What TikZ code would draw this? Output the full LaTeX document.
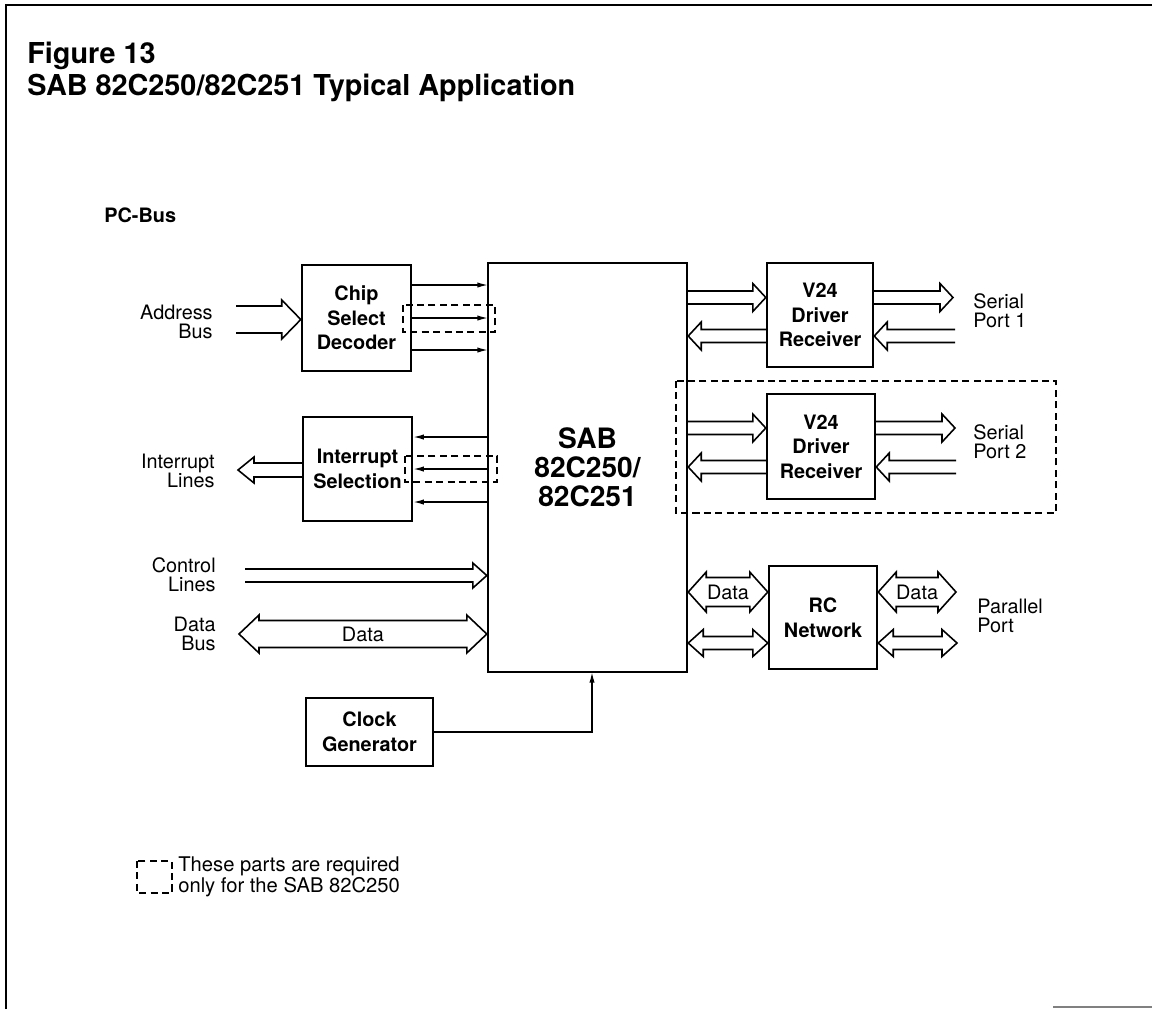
\documentclass[tikz,border=0pt]{standalone}
\usepackage{fontspec}
\setmainfont{TeX Gyre Heros}
\usetikzlibrary{arrows.meta,calc}

\newcommand{\busarrow}[5]{%
  \draw[bus] let \p1=(#1), \p2=(#2), \n1={sign(\x2-\x1)} in
    ({\x1},{\y2+#3}) -- ({\x2-(\n1)*#5},{\y2+#3}) -- ({\x2-(\n1)*#5},{\y2+#4}) -- ({\x2},{\y2})
    -- ({\x2-(\n1)*#5},{\y2-#4}) -- ({\x2-(\n1)*#5},{\y2-#3}) -- ({\x1},{\y2-#3});}
\newcommand{\busboth}[6]{%
  \draw[bus] let \p1=(#1), \p2=(#2), \n1={sign(\x2-\x1)} in
    ({\x1},{\y2}) -- ({\x1+(\n1)*#5},{\y2+#4}) -- ({\x1+(\n1)*#5},{\y2+#3}) -- ({\x2-(\n1)*#5},{\y2+#3})
    -- ({\x2-(\n1)*#5},{\y2+#4}) -- ({\x2},{\y2}) -- ({\x2-(\n1)*#5},{\y2-#4}) -- ({\x2-(\n1)*#5},{\y2-#3})
    -- ({\x1+(\n1)*#5},{\y2-#3}) -- ({\x1+(\n1)*#5},{\y2-#4}) -- cycle;
  \path (#1) -- (#2) node[midway,dlabel] {#6};}

\begin{document}
\begin{tikzpicture}[x=0.02cm,y=-0.02cm,
  block/.style={draw,line width=1.4pt,align=center,inner sep=2pt,font=\fontsize{11.3}{14}\selectfont\bfseries},
  sig/.style={line width=0.8pt,-{Latex[length=6pt,width=3pt]}},
  bus/.style={line width=0.9pt,line join=miter},
  opt/.style={line width=0.7pt,dash pattern=on 4pt off 2.5pt},
  lbl/.style={align=right,anchor=east,inner sep=0pt,font=\fontsize{11.3}{11}\selectfont},
  lblr/.style={align=left,anchor=west,inner sep=0pt,font=\fontsize{11.3}{11}\selectfont},
  dlabel/.style={inner sep=0pt,font=\fontsize{11.3}{12}\selectfont},
  title/.style={anchor=west,inner sep=0pt,font=\fontsize{16.4}{18}\selectfont\bfseries}]
\useasboundingbox (0,0) rectangle (1152,1009);
\draw[line width=1.3pt] (6,1009) -- (6,5) -- (1152,5);
\draw[line width=1.3pt,gray] (1053,1007) -- (1152,1007);

\node[title] (fig) at (27,56) {Figure 13};
\node[title] (ttl) at (27,88) {SAB 82C250/82C251 Typical Application};
\node[anchor=west,inner sep=0pt,font=\fontsize{11.3}{11}\selectfont\bfseries] (pcbus) at (104,215) {PC-Bus};

\node[block,minimum width=2.18cm,minimum height=2.12cm] (chip) at (356.5,318) {Chip\\Select\\Decoder};
\node[block,minimum width=2.18cm,minimum height=2.08cm] (irq) at (357.5,469) {Interrupt\\Selection};
\node[block,minimum width=3.98cm,minimum height=8.18cm,font=\fontsize{16}{16.5}\selectfont\bfseries] (main) at (587.5,467.5) {SAB\\82C250/\\82C251};
\node[block,minimum width=2.12cm,minimum height=2.08cm] (v1) at (820,315) {V24\\Driver\\Receiver};
\node[block,minimum width=2.16cm,minimum height=2.1cm] (v2) at (821,446.5) {V24\\Driver\\Receiver};
\node[block,minimum width=2.16cm,minimum height=2.06cm] (rc) at (823,617.5) {RC\\Network};
\node[block,minimum width=2.54cm,minimum height=1.36cm] (clk) at (369.5,732) {Clock\\Generator};

\node[lbl] (addrl) at (213,322) {Address\\Bus};
\node[lbl] (intll) at (215,471) {Interrupt\\Lines};
\node[lbl] (ctrll) at (216,575) {Control\\Lines};
\node[lbl] (dbusl) at (216,634) {Data\\Bus};
\node[lblr] (sp1) at (973,311) {Serial\\Port 1};
\node[lblr] (sp2) at (973,442) {Serial\\Port 2};
\node[lblr] (pp) at (977,616) {Parallel\\Port};

\coordinate (cs1) at (488,285);
\coordinate (cs2) at (488,318);
\coordinate (cs3) at (488,350);
\draw[sig] (chip.east |- cs1) -- (cs1);
\draw[sig] (chip.east |- cs2) -- (cs2);
\draw[sig] (chip.east |- cs3) -- (cs3);
\draw[opt] (403,305) rectangle (495,332);

\coordinate (ir1) at (488,437);
\coordinate (ir2) at (488,469);
\coordinate (ir3) at (488,502);
\draw[sig] (ir1) -- (irq.east |- ir1);
\draw[sig] (ir2) -- (irq.east |- ir2);
\draw[sig] (ir3) -- (irq.east |- ir3);
\draw[opt] (405,456) rectangle (497,482);

\coordinate (addr) at (236,319.5);
\busarrow{addr}{chip.west |- addr}{0.27cm}{0.39cm}{0.38cm}
\coordinate (intl) at (238,470);
\busarrow{irq.west |- intl}{intl}{0.14cm}{0.26cm}{0.32cm}
\coordinate (ctrl) at (245,575.5);
\busarrow{ctrl}{main.west |- ctrl}{0.13cm}{0.25cm}{0.28cm}
\coordinate (dbus) at (239,634);
\busboth{dbus}{main.west |- dbus}{0.27cm}{0.38cm}{0.4cm}{Data}

\coordinate (txa) at (953,297.5);
\busarrow{main.east |- txa}{v1.west |- txa}{0.13cm}{0.28cm}{0.26cm}
\busarrow{v1.east |- txa}{txa}{0.13cm}{0.28cm}{0.26cm}
\coordinate (rxa) at (955,336);
\busarrow{v1.west |- rxa}{main.east |- rxa}{0.13cm}{0.28cm}{0.26cm}
\busarrow{rxa}{v1.east |- rxa}{0.13cm}{0.28cm}{0.26cm}

\coordinate (txb) at (955,428);
\busarrow{main.east |- txb}{v2.west |- txb}{0.13cm}{0.28cm}{0.26cm}
\busarrow{v2.east |- txb}{txb}{0.13cm}{0.28cm}{0.26cm}
\coordinate (rxb) at (956,467);
\busarrow{v2.west |- rxb}{main.east |- rxb}{0.13cm}{0.28cm}{0.26cm}
\busarrow{rxb}{v2.east |- rxb}{0.13cm}{0.28cm}{0.26cm}
\draw[opt] (676,381) rectangle (1056,513);

\coordinate (pda) at (956,592);
\busboth{main.east |- pda}{rc.west |- pda}{0.29cm}{0.4cm}{0.36cm}{Data}
\busboth{rc.east |- pda}{pda}{0.29cm}{0.4cm}{0.36cm}{Data}
\coordinate (pdb) at (957,643);
\busboth{main.east |- pdb}{rc.west |- pdb}{0.13cm}{0.27cm}{0.3cm}{}
\busboth{rc.east |- pdb}{pdb}{0.13cm}{0.27cm}{0.3cm}{}

\coordinate (clkin) at (592,672);
\draw[sig] (clk.east) -| (clkin);

\draw[opt] (137,861) rectangle (172,893);
\node[lblr,font=\fontsize{11.5}{10.5}\selectfont] (legend) at (178,877) {These parts are required\\only for the SAB 82C250};
\end{tikzpicture}
\end{document}
